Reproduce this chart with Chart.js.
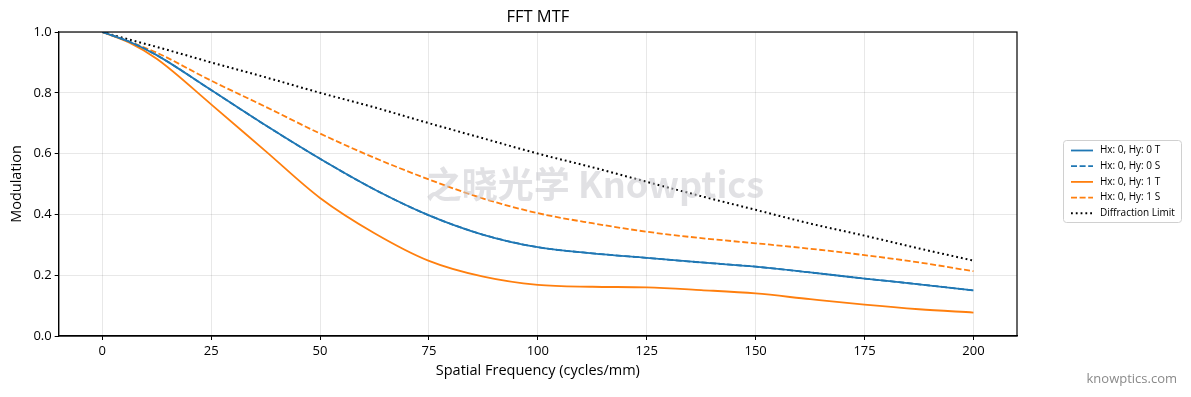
<!DOCTYPE html>
<html><head><meta charset="utf-8">
<script src="https://cdn.jsdelivr.net/npm/chart.js@4.4.1/dist/chart.umd.min.js"></script>
<style>html,body{margin:0;padding:0;background:#fff}#wrap{width:1191px;height:397px;position:relative}</style>
</head><body><div id="wrap"><canvas id="c" width="1191" height="397"></canvas></div>
<script>
const freq = [0,6.25,12.5,25,37.5,50,62.5,75,87.5,100,112.5,125,137.5,150,162.5,175,187.5,200];
const h0T = [1.0,0.968,0.924,0.809,0.693,0.583,0.482,0.397,0.333,0.292,0.272,0.257,0.242,0.228,0.209,0.189,0.170,0.150];
const h0S = [1.0,0.968,0.924,0.809,0.693,0.583,0.482,0.397,0.333,0.292,0.272,0.257,0.242,0.228,0.209,0.189,0.170,0.150];
const h1T = [1.0,0.965,0.912,0.762,0.608,0.454,0.338,0.247,0.195,0.168,0.162,0.160,0.151,0.140,0.121,0.103,0.088,0.077];
const h1S = [1.0,0.968,0.932,0.840,0.754,0.666,0.586,0.515,0.452,0.404,0.371,0.343,0.322,0.305,0.287,0.266,0.242,0.213];
const diff = [1.0,0.975,0.951,0.900,0.851,0.800,0.752,0.700,0.650,0.600,0.555,0.507,0.460,0.415,0.370,0.330,0.288,0.248];
const xTicks = [0,25,50,75,100,125,150,175,200];
const yTicks = [0,0.2,0.4,0.6,0.8,1.0];
const labels = ['Hx: 0, Hy: 0 T','Hx: 0, Hy: 0 S','Hx: 0, Hy: 1 T','Hx: 0, Hy: 1 S','Diffraction Limit'];

const BLUE='#1f77b4', ORANGE='#ff7f0e';
const FONT = "'Open Sans','Noto Sans',sans-serif";
function pts(a){return freq.map((x,i)=>({x:x,y:a[i]}));}
const styles = [
  {c:BLUE,d:[]},{c:BLUE,d:[6,2.6]},{c:ORANGE,d:[]},{c:ORANGE,d:[6,2.6]},{c:'#000',d:[1.8,3]}
];
const series=[h0T,h0S,h1T,h1S,diff];
const datasets = series.map((s,i)=>({label:labels[i],data:pts(s),borderColor:styles[i].c,borderDash:styles[i].d,
  borderWidth:i==4?2:1.8,pointRadius:0,fill:false,cubicInterpolationMode:'monotone',borderCapStyle:'butt'}));

const extras = {
  id:'extras',
  afterDraw(chart){
    const ctx=chart.ctx, a=chart.chartArea;
    ctx.save();
    ctx.strokeStyle='#000'; ctx.lineWidth=1.2;
    ctx.strokeRect(a.left,a.top,a.right-a.left,a.bottom-a.top);
    // title
    ctx.fillStyle='#000'; ctx.font="16.5px "+FONT; ctx.textAlign='center'; ctx.textBaseline='middle';
    ctx.fillText('FFT MTF',(a.left+a.right)/2,17);
    // watermark
    ctx.fillStyle='rgba(200,200,206,0.55)';
    ctx.font="bold 36px 'Noto Sans CJK SC','Open Sans',sans-serif";
    ctx.fillText('之晓光学 Knowptics',595,184);
    // site
    ctx.fillStyle='#8a8a8a'; ctx.font="13px "+FONT; ctx.textAlign='right';
    ctx.fillText('knowptics.com',1177,379);
    // legend
    const lx=1063, ly=140, lw=118, lh=82;
    ctx.fillStyle='#fff'; ctx.strokeStyle='#d0d0d0'; ctx.lineWidth=1;
    ctx.beginPath(); ctx.roundRect(lx+0.5,ly+0.5,lw,lh,3); ctx.fill(); ctx.stroke();
    ctx.font="10px "+FONT; ctx.textAlign='left'; ctx.textBaseline='middle';
    labels.forEach((t,i)=>{
      const y=ly+10.5+i*15.7;
      ctx.strokeStyle=styles[i].c; ctx.lineWidth=i==4?2:1.8; ctx.setLineDash(styles[i].d);
      ctx.beginPath(); ctx.moveTo(lx+8,y); ctx.lineTo(lx+30,y); ctx.stroke();
      ctx.setLineDash([]);
      ctx.fillStyle='#000'; ctx.fillText(t,lx+37,y);
    });
    ctx.restore();
  }
};

new Chart(document.getElementById('c'),{
  type:'line',
  data:{datasets:datasets},
  options:{
    responsive:false,animation:false,
    layout:{padding:{left:8,right:174,top:32,bottom:17}},
    plugins:{legend:{display:false},tooltip:{enabled:false},title:{display:false}},
    scales:{
      x:{type:'linear',min:-10,max:210,
        afterBuildTicks(ax){ax.ticks=xTicks.map(v=>({value:v}));},
        ticks:{color:'#000',font:{family:FONT,size:13},padding:3,maxRotation:0,callback:v=>String(v)},
        grid:{color:'rgba(0,0,0,0.09)',tickColor:'#000',tickLength:4,lineWidth:1},
        border:{color:'#000',width:1.2},
        title:{display:true,text:'Spatial Frequency (cycles/mm)',color:'#000',font:{family:FONT,size:14.5},padding:{top:1,bottom:0}}},
      y:{type:'linear',min:0,max:1,
        afterBuildTicks(ax){ax.ticks=yTicks.map(v=>({value:v}));},
        ticks:{color:'#000',font:{family:FONT,size:13},padding:3,callback:v=>v.toFixed(1)},
        grid:{color:'rgba(0,0,0,0.09)',tickColor:'#000',tickLength:4,lineWidth:1},
        border:{color:'#000',width:1.2},
        title:{display:true,text:'Modulation',color:'#000',font:{family:FONT,size:14.5},padding:{top:0,bottom:5}}}
    }
  },
  plugins:[extras]
});
</script></body></html>
